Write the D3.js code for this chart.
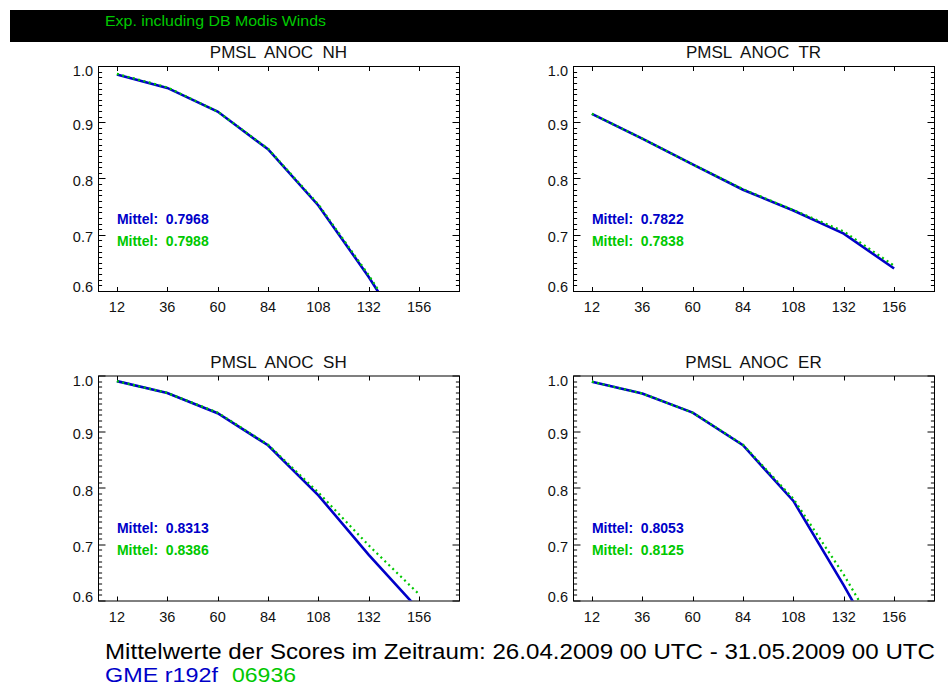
<!DOCTYPE html>
<html>
<head>
<meta charset="utf-8">
<script src="https://cdn.jsdelivr.net/npm/d3@7"></script>
<style>
  html, body { margin: 0; padding: 0; background: #fff; }
  svg { display: block; }
  text { font-family: "Liberation Sans", Arial, sans-serif; }
</style>
</head>
<body>
<svg id="chart" width="948" height="686"></svg>
<script>
// ---------------- data ----------------
const hours = [12, 36, 60, 84, 108, 132, 156];
const xTickLabels = [12, 36, 60, 84, 108, 132, 156];
const yTickLabels = [0.6, 0.7, 0.8, 0.9, 1.0];
const panelTitles = ["PMSL  ANOC  NH", "PMSL  ANOC  TR", "PMSL  ANOC  SH", "PMSL  ANOC  ER"];

const blueNH  = [0.985, 0.961, 0.919, 0.852, 0.752, 0.625, 0.484];
const greenNH = [0.986, 0.962, 0.919, 0.853, 0.754, 0.628, 0.490];
const blueTR  = [0.915, 0.871, 0.825, 0.780, 0.743, 0.702, 0.640];
const greenTR = [0.915, 0.871, 0.825, 0.781, 0.744, 0.706, 0.645];
const blueSH  = [0.990, 0.969, 0.933, 0.876, 0.787, 0.681, 0.583];
const greenSH = [0.990, 0.969, 0.934, 0.877, 0.792, 0.698, 0.611];
const blueER  = [0.989, 0.968, 0.934, 0.876, 0.777, 0.627, 0.468];
const greenER = [0.989, 0.968, 0.934, 0.877, 0.781, 0.646, 0.493];

const blueMeans  = ["0.7968", "0.7822", "0.8313", "0.8053"];
const greenMeans = ["0.7988", "0.7838", "0.8386", "0.8125"];

const bannerText = "Exp. including DB Modis Winds";
const footerTitle = "Mittelwerte der Scores im Zeitraum: 26.04.2009 00 UTC - 31.05.2009 00 UTC";
const footerRun1 = "GME r192f";
const footerRun2 = "06936";

// ---------------- layout ----------------
const BLUE = "#0000c8";
const GREEN = "#00c800";
const svg = d3.select("#chart");

const panelW = 361, panelH = 225;
const panels = [
  { title: panelTitles[0], blue: blueNH, green: greenNH, bm: blueMeans[0], gm: greenMeans[0], x: 98,  y: 66 },
  { title: panelTitles[1], blue: blueTR, green: greenTR, bm: blueMeans[1], gm: greenMeans[1], x: 573, y: 66 },
  { title: panelTitles[2], blue: blueSH, green: greenSH, bm: blueMeans[2], gm: greenMeans[2], x: 98,  y: 375.5 },
  { title: panelTitles[3], blue: blueER, green: greenER, bm: blueMeans[3], gm: greenMeans[3], x: 573, y: 375.5 }
];

// banner
svg.append("rect").attr("x", 10).attr("y", 10).attr("width", 938).attr("height", 32).attr("fill", "#000");
svg.append("text").attr("x", 105).attr("y", 25.5)
  .attr("font-size", 15.5).attr("fill", GREEN)
  .attr("textLength", 221).attr("lengthAdjust", "spacingAndGlyphs")
  .text(bannerText);

const x = d3.scaleLinear().domain([3, 175]).range([0, panelW]);
const y = d3.scaleLinear().domain([0.6, 1.0]).range([panelH, 0]);
const yMinor = d3.range(60, 101).map(d => d / 100);

panels.forEach((p, i) => {
  const g = svg.append("g").attr("transform", `translate(${p.x},${p.y})`);
  const clipId = "clip" + i;
  g.append("clipPath").attr("id", clipId)
    .append("rect").attr("x", 0).attr("y", 0).attr("width", panelW).attr("height", panelH);

  // title
  g.append("text").attr("x", panelW / 2).attr("y", -8)
    .attr("text-anchor", "middle").attr("font-size", 17).attr("fill", "#111")
    .style("white-space", "pre").text(p.title);

  // box
  g.append("rect").attr("x", 0.5).attr("y", 0.5).attr("width", panelW).attr("height", panelH)
    .attr("fill", "none").attr("stroke", "#000").attr("stroke-width", 1);

  // y ticks (left and right, inward)
  yMinor.forEach(v => {
    const isMajor = Math.round(v * 100) % 10 === 0;
    const len = isMajor ? 7 : 3.6;
    const yy = Math.round(y(v)) + 0.5;
    g.append("line").attr("x1", 0.5).attr("x2", 0.5 + len).attr("y1", yy).attr("y2", yy)
      .attr("stroke", "#000").attr("stroke-width", 1);
    g.append("line").attr("x1", panelW + 0.5).attr("x2", panelW + 0.5 - len).attr("y1", yy).attr("y2", yy)
      .attr("stroke", "#000").attr("stroke-width", 1);
  });
  // y labels
  yTickLabels.forEach(v => {
    const c = Math.max(5, Math.min(panelH - 4, y(v) + 2.5));
    g.append("text").attr("x", -5).attr("y", c + 5)
      .attr("text-anchor", "end").attr("font-size", 14.5).attr("fill", "#111")
      .text(d3.format(".1f")(v));
  });

  // x ticks (bottom and top, inward)
  xTickLabels.forEach(v => {
    const xx = Math.round(x(v)) + 0.5;
    g.append("line").attr("x1", xx).attr("x2", xx).attr("y1", panelH + 0.5).attr("y2", panelH + 0.5 - 4.5)
      .attr("stroke", "#000").attr("stroke-width", 1);
    g.append("line").attr("x1", xx).attr("x2", xx).attr("y1", 0.5).attr("y2", 5)
      .attr("stroke", "#000").attr("stroke-width", 1);
    g.append("text").attr("x", x(v)).attr("y", panelH + 21)
      .attr("text-anchor", "middle").attr("font-size", 14.5).attr("fill", "#111")
      .text(v);
  });

  // lines
  const line = d3.line().x((d, k) => x(hours[k])).y(d => y(d));
  const lg = g.append("g").attr("clip-path", `url(#${clipId})`);
  lg.append("path").datum(p.blue).attr("d", line)
    .attr("fill", "none").attr("stroke", BLUE).attr("stroke-width", 2.6);
  lg.append("path").datum(p.green).attr("d", line)
    .attr("fill", "none").attr("stroke", GREEN).attr("stroke-width", 2.2)
    .attr("stroke-dasharray", "2,3.5");

  // Mittel labels
  g.append("text").attr("x", x(12)).attr("y", 157.5)
    .attr("font-size", 14).attr("font-weight", "bold").attr("fill", BLUE)
    .style("white-space", "pre").text("Mittel:  " + p.bm);
  g.append("text").attr("x", x(12)).attr("y", 179.5)
    .attr("font-size", 14).attr("font-weight", "bold").attr("fill", GREEN)
    .style("white-space", "pre").text("Mittel:  " + p.gm);
});

// footer
svg.append("text").attr("x", 105).attr("y", 658.5)
  .attr("font-size", 22).attr("fill", "#000")
  .attr("textLength", 830).attr("lengthAdjust", "spacingAndGlyphs")
  .text(footerTitle);
svg.append("text").attr("x", 105).attr("y", 682).attr("font-size", 20.5)
  .attr("fill", BLUE)
  .attr("textLength", 113).attr("lengthAdjust", "spacingAndGlyphs")
  .text(footerRun1);
svg.append("text").attr("x", 232).attr("y", 682).attr("font-size", 20.5)
  .attr("fill", GREEN)
  .attr("textLength", 64).attr("lengthAdjust", "spacingAndGlyphs")
  .text(footerRun2);
</script>
</body>
</html>
